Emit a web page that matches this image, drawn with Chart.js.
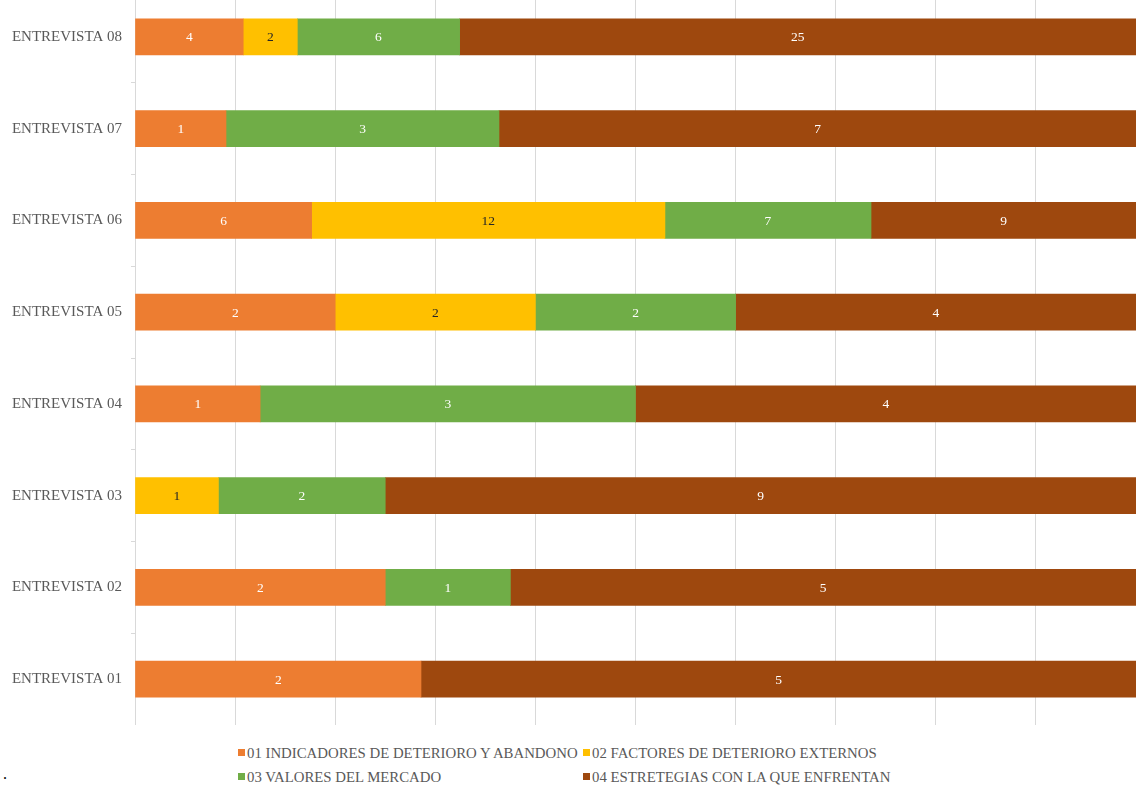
<!DOCTYPE html>
<html>
<head>
<meta charset="utf-8">
<script src="https://cdn.jsdelivr.net/npm/chart.js@4/dist/chart.umd.min.js"></script>
<style>
	html, body { margin: 0; padding: 0; background: #fff; }
	#wrap { position: relative; width: 1136px; height: 786px; overflow: hidden; }
	#chart-box { position: absolute; left: 0; top: -19px; width: 1136px; height: 744px; }
	.legend { position: absolute; font-family: "Liberation Serif", "Times New Roman", serif; font-size: 14.8px; color: #595959; white-space: nowrap; line-height: 16px; }
	.legend i { display: inline-block; width: 7px; height: 7px; margin-right: 2px; vertical-align: 2px; }
	.dot { position: absolute; left: 3px; top: 765px; font-family: "Liberation Serif", serif; font-size: 16px; color: #000; }
</style>
</head>
<body>
<div id="wrap">
	<div id="chart-box"><canvas id="barChart"></canvas></div>
	<div id="legend"></div>
	<div class="dot">.</div>
</div>
<script>
// categorias (de arriba hacia abajo)
const categorias = [
	"ENTREVISTA 08",
	"ENTREVISTA 07",
	"ENTREVISTA 06",
	"ENTREVISTA 05",
	"ENTREVISTA 04",
	"ENTREVISTA 03",
	"ENTREVISTA 02",
	"ENTREVISTA 01",
];

// conteos por serie (0 = sin segmento)
const indicadores = [4, 1, 6, 2, 1, 0, 2, 2];
const factores = [2, 0, 12, 2, 0, 1, 0, 0];
const valores = [6, 3, 7, 2, 3, 2, 1, 0];
const estrategias = [25, 7, 9, 4, 4, 9, 5, 5];

const nombresSeries = [
	"01 INDICADORES DE DETERIORO Y ABANDONO",
	"02 FACTORES DE DETERIORO EXTERNOS",
	"03 VALORES DEL MERCADO",
	"04 ESTRETEGIAS CON LA QUE ENFRENTAN",
];
const colores = ["#ED7D31", "#FFC000", "#70AD47", "#9E480E"];
const coloresTexto = ["#ffffff", "#262626", "#ffffff", "#ffffff"];

const xTicks = [0, 10, 20, 30, 40, 50, 60, 70, 80, 90, 100];

const series = [indicadores, factores, valores, estrategias];
const totales = categorias.map((_, i) =>
	series.reduce((sum, s) => sum + s[i], 0)
);

const datasets = series.map((s, k) => ({
	label: nombresSeries[k],
	data: s.map((v, i) => (v ? (v / totales[i]) * 100 : null)),
	conteos: s,
	backgroundColor: colores[k],
	borderWidth: 0,
	barThickness: 36,
}));

// etiquetas de datos en el centro de cada segmento
const etiquetasPlugin = {
	id: "etiquetas",
	afterDatasetsDraw(chart) {
		const ctx = chart.ctx;
		ctx.save();
		ctx.font = '13.5px "Liberation Serif", "Times New Roman", serif';
		ctx.textAlign = "center";
		ctx.textBaseline = "middle";
		chart.data.datasets.forEach((ds, k) => {
			const meta = chart.getDatasetMeta(k);
			meta.data.forEach((bar, i) => {
				const v = ds.conteos[i];
				if (!v) return;
				const p = bar.getProps(["x", "y", "base"], true);
				ctx.fillStyle = coloresTexto[k];
				ctx.fillText(String(v), (p.x + p.base) / 2, p.y + 1);
			});
		});
		ctx.restore();
	},
};

const ctx = document.getElementById("barChart").getContext("2d");
new Chart(ctx, {
	type: "bar",
	data: { labels: categorias, datasets: datasets },
	plugins: [etiquetasPlugin],
	options: {
		indexAxis: "y",
		responsive: true,
		maintainAspectRatio: false,
		animation: false,
		layout: { padding: { top: 10, right: 0, bottom: 0, left: 0 } },
		plugins: {
			legend: { display: false },
			tooltip: { enabled: false },
		},
		scales: {
			x: {
				stacked: true,
				min: 0,
				max: 100,
				afterBuildTicks: (axis) => {
					axis.ticks = xTicks.map((v) => ({ value: v }));
				},
				afterFit: (axis) => {
					axis.height = 0;
				},
				ticks: { display: false },
				grid: { color: "#d9d9d9", lineWidth: 1, drawTicks: false },
				border: { display: false },
			},
			y: {
				stacked: true,
				afterFit: (axis) => {
					axis.width = 135;
					axis.paddingTop = 0;
					axis.paddingBottom = 0;
				},
				ticks: {
					color: "#595959",
					padding: 9,
					font: { family: '"Liberation Serif", "Times New Roman", serif', size: 15 },
				},
				grid: { drawOnChartArea: false, color: "#d9d9d9", tickLength: 4 },
				border: { display: true, color: "#d9d9d9" },
			},
		},
	},
});

// leyenda en dos columnas
const legendBox = document.getElementById("legend");
const posiciones = [
	[238, 745],
	[583, 745],
	[238, 769],
	[583, 769],
];
nombresSeries.forEach((nombre, k) => {
	const d = document.createElement("div");
	d.className = "legend";
	d.style.left = posiciones[k][0] + "px";
	d.style.top = posiciones[k][1] + "px";
	d.innerHTML = `<i style="background:${colores[k]}"></i>${nombre}`;
	legendBox.appendChild(d);
});
</script>
</body>
</html>
